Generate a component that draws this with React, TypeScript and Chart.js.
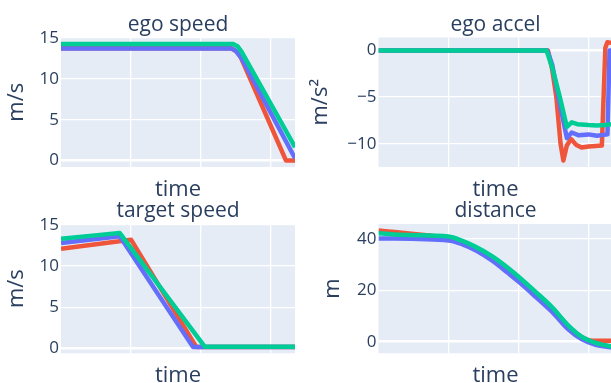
import React, { useEffect, useRef } from "react";
import { Chart, registerables } from "chart.js";

Chart.register(...registerables);

// ---------- data ----------
const BLUE = "#636efa";
const RED = "#EF553B";
const GREEN = "#00cc96";

const T_MAX = 16.71;
const xGridTimes = [5, 10, 15];

// ego speed (m/s)
const egoSpeedBlueT = [0, 12.2, 12.5, 12.9, 16.71];
const egoSpeedBlueV = [13.7, 13.7, 13.4, 12.5, 0.3];
const egoSpeedRedT = [0, 12.15, 12.5, 12.8, 16.07, 16.71];
const egoSpeedRedV = [13.75, 13.75, 13.4, 12.8, 0, 0];
const egoSpeedGreenT = [0, 12.3, 12.6, 12.9, 16.71];
const egoSpeedGreenV = [14.25, 14.25, 14.0, 13.3, 1.65];
const egoSpeedTicks = [0, 5, 10, 15];

// ego accel (m/s²)
const egoAccelBlueT = [0, 12.05, 12.4, 12.85, 13.45, 13.8, 14.3, 15.0, 15.6, 16.35, 16.5, 16.71];
const egoAccelBlueV = [0, 0, -1.5, -5, -9.4, -8.8, -9.1, -9.0, -9.15, -9.0, 0, 0];
const egoAccelRedT = [0, 12.1, 12.4, 12.7, 13.0, 13.2, 13.45, 13.75, 14.1, 14.5, 15.0, 15.5, 15.95, 16.2, 16.35, 16.71];
const egoAccelRedV = [0, 0, -2, -5, -10, -11.8, -10.2, -9.5, -10.1, -10.4, -10.3, -10.25, -10.2, 0.3, 0.9, 0.8];
const egoAccelGreenT = [0, 12.0, 12.4, 12.95, 13.45, 13.8, 14.2, 15.0, 15.6, 16.2, 16.71];
const egoAccelGreenV = [0, 0, -1.8, -5, -8.2, -7.7, -7.9, -8.0, -8.05, -8.0, -7.9];
const egoAccelTicks = [-10, -5, 0];

// target speed (m/s)
const targetBlueT = [0, 4.2, 9.43, 16.71];
const targetBlueV = [12.8, 13.6, 0.15, 0.15];
const targetRedT = [0, 5.0, 9.67, 16.71];
const targetRedV = [12.1, 13.2, 0.15, 0.15];
const targetGreenT = [0, 2.6, 4.2, 10.26, 16.71];
const targetGreenV = [13.3, 13.75, 14.0, 0.2, 0.2];
const targetTicks = [0, 5, 10, 15];

// distance (m)
const distBlueT = [0, 5.0, 6.0, 7.0, 8.1, 9.3, 10.0, 11.2, 12.4, 13.6, 14.5, 15.5, 16.71];
const distBlueV = [40.2, 39.4, 37.9, 35.4, 31.6, 26.5, 23.4, 17.6, 11.6, 4.6, 1.0, -1.2, -2.3];
const distRedT = [0, 5.0, 6.0, 7.0, 8.1, 9.3, 10.0, 11.2, 12.4, 13.6, 14.5, 15.3, 16.71];
const distRedV = [43.3, 40.2, 38.8, 36.2, 32.5, 27.5, 24.6, 18.9, 12.8, 5.6, 1.9, 0.4, 0.4];
const distGreenT = [0, 2.1, 5.0, 5.95, 6.9, 8.1, 9.3, 10.0, 11.2, 12.4, 13.6, 14.5, 15.5, 16.71];
const distGreenV = [42.2, 41.5, 40.9, 39.3, 37.0, 33.3, 28.5, 25.3, 19.5, 13.4, 6.1, 2.0, -0.4, -1.9];
const distTicks = [0, 20, 40];

// ---------- styling ----------
const FONT = '"Open Sans", sans-serif';
const TEXT = "#2a3f5f";
const PLOT_BG = "#E5ECF6";

const zip = (t: number[], v: number[]) => t.map((x, i) => ({ x, y: v[i] }));

const decorPlugin = {
  id: "panelDecor",
  beforeDraw(chart: any) {
    const { ctx, chartArea: a } = chart;
    ctx.save();
    ctx.fillStyle = PLOT_BG;
    ctx.fillRect(a.left, a.top, a.right - a.left, a.bottom - a.top);
    ctx.restore();
  },
  afterDraw(chart: any, _args: any, opts: any) {
    const { ctx, chartArea: a } = chart;
    ctx.save();
    ctx.font = `21px ${FONT}`;
    ctx.fillStyle = TEXT;
    ctx.textAlign = "center";
    ctx.textBaseline = "alphabetic";
    ctx.fillText(opts.text, (a.left + a.right) / 2, a.top - opts.gap);
    ctx.restore();
  },
};

type Panel = {
  title: string;
  yTitle: string;
  left: number;
  top: number;
  width: number;
  height: number;
  yW: number;
  padTop: number;
  padRight: number;
  xH: number;
  xTitlePad: number;
  yTitlePad: number;
  titleGap: number;
  yMin: number;
  yMax: number;
  yTicks: number[];
  series: { t: number[]; v: number[]; color: string; order: number }[];
};

const panels: Panel[] = [
  {
    title: "ego speed", yTitle: "m/s",
    left: 0, top: 0, width: 305, height: 205,
    yW: 61, padTop: 37.5, padRight: 10, xH: 38, xTitlePad: 2.2, yTitlePad: 3.3, titleGap: 7,
    yMin: -0.78, yMax: 15.06, yTicks: egoSpeedTicks,
    series: [
      { t: egoSpeedBlueT, v: egoSpeedBlueV, color: BLUE, order: 1 },
      { t: egoSpeedRedT, v: egoSpeedRedV, color: RED, order: 2 },
      { t: egoSpeedGreenT, v: egoSpeedGreenV, color: GREEN, order: 0 },
    ],
  },
  {
    title: "ego accel", yTitle: "m/s²",
    left: 305, top: 0, width: 315, height: 205,
    yW: 73.5, padTop: 37.5, padRight: 7.5, xH: 38, xTitlePad: 2.2, yTitlePad: 2.3, titleGap: 7,
    yMin: -12.5, yMax: 1.4, yTicks: egoAccelTicks,
    series: [
      { t: egoAccelBlueT, v: egoAccelBlueV, color: BLUE, order: 1 },
      { t: egoAccelRedT, v: egoAccelRedV, color: RED, order: 2 },
      { t: egoAccelGreenT, v: egoAccelGreenV, color: GREEN, order: 0 },
    ],
  },
  {
    title: "target speed", yTitle: "m/s",
    left: 0, top: 195, width: 305, height: 200,
    yW: 61, padTop: 29, padRight: 10, xH: 41.7, xTitlePad: 6.2, yTitlePad: 3.3, titleGap: 7.5,
    yMin: -0.6, yMax: 15.1, yTicks: targetTicks,
    series: [
      { t: targetBlueT, v: targetBlueV, color: BLUE, order: 1 },
      { t: targetRedT, v: targetRedV, color: RED, order: 2 },
      { t: targetGreenT, v: targetGreenV, color: GREEN, order: 0 },
    ],
  },
  {
    title: "distance", yTitle: "m",
    left: 305, top: 195, width: 315, height: 200,
    yW: 73.5, padTop: 29, padRight: 7.5, xH: 41.7, xTitlePad: 6.2, yTitlePad: 15, titleGap: 7.5,
    yMin: -4.5, yMax: 45.8, yTicks: distTicks,
    series: [
      { t: distBlueT, v: distBlueV, color: BLUE, order: 1 },
      { t: distRedT, v: distRedV, color: RED, order: 2 },
      { t: distGreenT, v: distGreenV, color: GREEN, order: 0 },
    ],
  },
];

const fmt = (v: number) => (v < 0 ? "\u2212" + Math.abs(v) : String(v));

function PanelChart({ p, smooth }: { p: Panel; smooth: boolean }) {
  const ref = useRef<HTMLCanvasElement>(null);
  useEffect(() => {
    if (!ref.current) return;
    const chart = new Chart(ref.current, {
      type: "line",
      data: {
        datasets: p.series.map((s) => ({
          data: zip(s.t, s.v),
          borderColor: s.color,
          backgroundColor: s.color,
          borderWidth: 4.5,
          pointRadius: 0,
          fill: false,
          order: s.order,
          borderJoinStyle: "round" as const,
          cubicInterpolationMode: smooth ? ("monotone" as const) : ("default" as const),
          tension: 0,
        })),
      },
      options: {
        animation: false,
        responsive: false,
        devicePixelRatio: 1,
        layout: { padding: { top: p.padTop, right: p.padRight, bottom: 0, left: 0 } },
        plugins: {
          legend: { display: false },
          tooltip: { enabled: false },
          panelDecor: { text: p.title, gap: p.titleGap },
        } as any,
        scales: {
          x: {
            type: "linear",
            min: 0,
            max: T_MAX,
            afterBuildTicks: (s: any) => {
              s.ticks = xGridTimes.map((value) => ({ value }));
            },
            afterFit: (s: any) => {
              s.height = p.xH;
            },
            ticks: { display: false },
            grid: { color: "#ffffff", lineWidth: 1.3, drawTicks: false },
            border: { display: false },
            title: {
              display: true,
              text: "time",
              color: TEXT,
              font: { family: FONT, size: 22 },
              padding: { top: 0, bottom: p.xTitlePad },
            },
          },
          y: {
            type: "linear",
            min: p.yMin,
            max: p.yMax,
            afterBuildTicks: (s: any) => {
              s.ticks = p.yTicks.map((value) => ({ value }));
            },
            afterFit: (s: any) => {
              s.width = p.yW;
            },
            ticks: {
              color: TEXT,
              font: { family: FONT, size: 17 },
              padding: 2,
              callback: (v: any) => fmt(Number(v)),
            },
            grid: {
              color: "#ffffff",
              lineWidth: (c: any) => (c.tick && c.tick.value === 0 ? 2.6 : 1.3),
              drawTicks: false,
            },
            border: { display: false },
            title: {
              display: true,
              text: p.yTitle,
              color: TEXT,
              font: { family: FONT, size: 22 },
              padding: { top: p.yTitlePad, bottom: 0 },
            },
          },
        },
      } as any,
      plugins: [decorPlugin],
    });
    return () => chart.destroy();
  }, [p, smooth]);
  return (
    <canvas
      ref={ref}
      width={p.width}
      height={p.height}
      style={{ position: "absolute", left: p.left, top: p.top, width: p.width, height: p.height }}
    />
  );
}

export default function App() {
  return (
    <div
      style={{
        position: "absolute",
        left: 0,
        top: 0,
        width: 611,
        height: 383,
        overflow: "hidden",
        background: "#ffffff",
      }}
    >
      {panels.map((p, i) => (
        <PanelChart key={i} p={p} smooth={i === 3} />
      ))}
    </div>
  );
}
